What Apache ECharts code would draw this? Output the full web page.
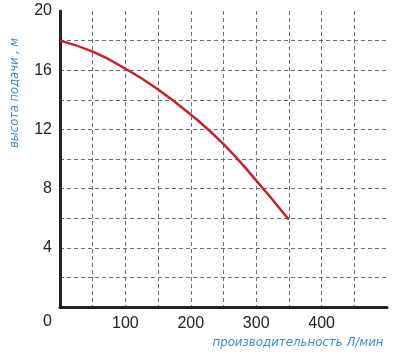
<!DOCTYPE html>
<html><head><meta charset="utf-8">
<script src="https://cdn.jsdelivr.net/npm/echarts@6/dist/echarts.min.js"></script>
<style>html,body{margin:0;padding:0;background:#fff}#c{width:400px;height:363px}</style>
</head><body><div id="c"></div>
<script>
const flow = [0, 50, 100, 150, 200, 250, 300, 350];
const head = [18, 17.25, 16.1, 14.7, 13.0, 11.0, 8.55, 5.9];
const yTicks = [0, 4, 8, 12, 16, 20];
const xTicks = [100, 200, 300, 400];
const xName = 'производительность Л/мин';
const yName = 'высота подачи , м';

const chart = echarts.init(document.getElementById('c'));
const gridStyle = {color: '#6f6f6f', width: 1, type: [4, 3]};
const numFont = '"Liberation Sans", Arial, sans-serif';
chart.setOption({
  animation: false,
  grid: {left: 60, right: 13, top: 11, bottom: 56},
  graphic: [
    {type: 'text', x: 15, y: 93, rotation: Math.PI/2,
     style: {text: yName, fill: '#3a8fd0', font: 'italic 11.5px "DejaVu Sans", sans-serif', align: 'center', verticalAlign: 'middle'}},
    {type: 'text', x: 298, y: 343,
     style: {text: xName, fill: '#3a8fd0', font: 'italic 11.8px "DejaVu Sans", sans-serif', align: 'center', verticalAlign: 'middle'}}
  ],
  xAxis: {
    type: 'value', min: 0, max: 500, interval: 50,
    axisLine: {show: true, onZero: false, lineStyle: {color: '#222', width: 3}},
    axisTick: {show: false},
    splitLine: {show: true, showMinLine: false, showMaxLine: false, lineStyle: gridStyle},
    axisLabel: {
      margin: 9, color: '#222', fontSize: 16, fontFamily: numFont,
      formatter: v => xTicks.includes(v) ? String(v) : ''
    }
  },
  yAxis: {
    type: 'value', min: 0, max: 20, interval: 2,
    axisLine: {show: true, onZero: false, lineStyle: {color: '#222', width: 3}},
    axisTick: {show: false},
    splitLine: {show: true, showMinLine: false, showMaxLine: false, lineStyle: gridStyle},
    axisLabel: {
      margin: 8, color: '#222', fontSize: 16, fontFamily: numFont,
      formatter: v => v === 0 ? '{z|0}' : (yTicks.includes(v) ? String(v) : ''),
      rich: {z: {padding: [30, 0, 0, 0], color: '#222', fontSize: 16, fontFamily: numFont}}
    }
  },
  series: [{
    type: 'line', smooth: true, symbol: 'none',
    data: flow.map((x, i) => [x, head[i]]),
    lineStyle: {color: '#c8202a', width: 2.5}
  }]
});
</script></body></html>
